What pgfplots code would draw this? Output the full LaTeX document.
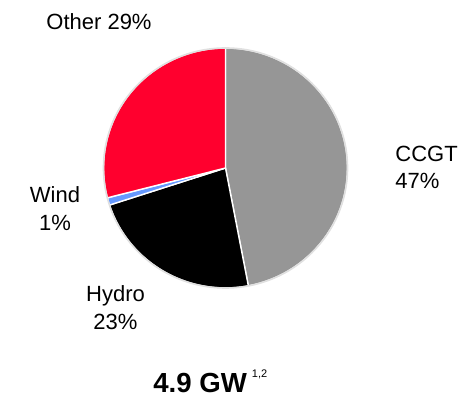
\documentclass[border=0pt]{standalone}
\usepackage{pgfplots}
\pgfplotsset{compat=1.18}
\usepackage{pgfplotstable}
\usepackage{fontspec}
\setmainfont{Liberation Sans}

\definecolor{ccgt}{RGB}{150,150,150}
\definecolor{hydro}{RGB}{0,0,0}
\definecolor{wind}{RGB}{102,153,255}
\definecolor{other}{RGB}{255,0,46}
\definecolor{rim}{RGB}{224,224,224}

% installed capacity shares (%)
\pgfplotstableread{
label value color
CCGT  47 ccgt
Hydro 23 hydro
Wind  1  wind
Other 29 other
}\sharetable

% build the slices clockwise from 12 o'clock
\gdef\pieslices{}
\gdef\cumul{90}
\pgfplotstableforeachcolumnelement{value}\of\sharetable\as\v{%
  \pgfplotstablegetelem{\pgfplotstablerow}{color}\of\sharetable
  \let\col\pgfplotsretval
  \pgfmathsetmacro\a{\cumul}%
  \pgfmathsetmacro\b{\cumul-3.6*\v}%
  \xdef\pieslices{\unexpanded\expandafter{\pieslices}%
    \noexpand\filldraw[fill=\col, draw=white, line width=0.7pt, line join=round]
      (axis cs:225.5,232) -- ++(\a:61pt and 60pt)
      arc[start angle=\a, end angle=\b, x radius=61pt, y radius=60pt] -- cycle;}%
  \xdef\cumul{\b}%
}

\begin{document}
\begin{tikzpicture}
\begin{axis}[
  x=0.5pt, y=0.5pt,
  xmin=0, xmax=469, ymin=0, ymax=400,
  hide axis, clip=false,
]
\path (axis cs:0,0) rectangle (axis cs:469,400);
\pieslices
\draw[rim, line width=0.8pt] (axis cs:225.5,232) ellipse [x radius=61pt, y radius=60pt];

\begin{scope}[every node/.style={font=\fontsize{11}{13}\selectfont, inner sep=0pt}]
  \node[anchor=base] at (axis cs:99,370) {Other 29\%};
  \node[anchor=base west] at (axis cs:395,238) {CCGT};
  \node[anchor=base west] at (axis cs:395,211) {47\%};
  \node[anchor=base] at (axis cs:55,197) {Wind};
  \node[anchor=base] at (axis cs:55,169) {1\%};
  \node[anchor=base] at (axis cs:115.5,98) {Hydro};
  \node[anchor=base] at (axis cs:115.5,70) {23\%};
\end{scope}
\node[anchor=base west, inner sep=0pt] at (axis cs:153,8)
  {\fontsize{13.8}{16}\selectfont\bfseries 4.9 GW\hspace{2.5pt}\raisebox{7.5pt}{\fontsize{5.5}{6}\mdseries 1,2}};
\end{axis}
\end{tikzpicture}
\end{document}
